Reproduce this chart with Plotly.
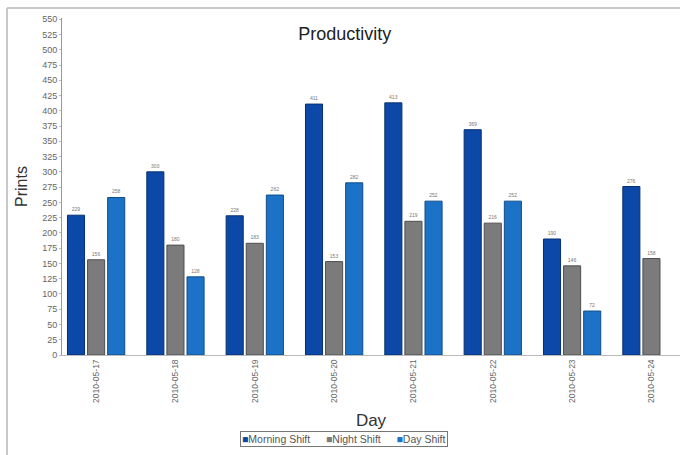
import plotly.graph_objects as go

days = ["2010-05-17", "2010-05-18", "2010-05-19", "2010-05-20",
        "2010-05-21", "2010-05-22", "2010-05-23", "2010-05-24"]
morning = [229, 300, 228, 411, 413, 369, 190, 276]
night = [156, 180, 183, 153, 219, 216, 146, 158]
day_shift = [258, 128, 262, 282, 252, 252, 72, None]
series_names = ["Morning Shift", "Night Shift", "Day Shift"]

FONT = "Liberation Sans Narrow, Arial Narrow, Liberation Sans, Arial, sans-serif"
colors = ["#0c48a8", "#7b7b7b", "#1b72c6"]
edges = ["#072f70", "#4e4e4e", "#0f4c88"]

fig = go.Figure()
for name, vals, col, edge in zip(series_names, [morning, night, day_shift], colors, edges):
    fig.add_trace(go.Bar(
        name=name, x=days, y=vals,
        marker=dict(color=col, line=dict(color=edge, width=1)),
        text=[("" if v is None else str(v)) for v in vals],
        textposition="outside", cliponaxis=False,
        textfont=dict(size=5, color="#777777", family=FONT),
        showlegend=False,
    ))

legend_text = "\u2003\u2002".join(
    f"<span style='color:{c}'>■</span>{n}" for n, c in zip(series_names, colors)
)

fig.update_layout(
    width=680, height=455,
    margin=dict(l=62, r=0, t=18, b=100),
    paper_bgcolor="white", plot_bgcolor="white",
    barmode="group", bargap=0.24, bargroupgap=0.15,
    font=dict(family=FONT, color="#333333"),
    title=dict(text="Productivity", x=0.507, xanchor="center", y=0.927, yanchor="middle",
               font=dict(size=18, color="#222222", family=FONT)),
    xaxis=dict(
        type="category", range=[-0.43, 7.36],
        showline=True, linecolor="#bbbbbb", linewidth=1,
        tickangle=-90, tickfont=dict(size=8.5, color="#666666"),
        ticks="", showgrid=False,
        title=dict(text="Day", font=dict(size=17, color="#333333"), standoff=12),
    ),
    yaxis=dict(
        range=[0, 552], dtick=25, tick0=0,
        showline=True, linecolor="#999999", linewidth=1,
        ticks="outside", ticklen=2, tickcolor="#bbbbbb",
        tickfont=dict(size=9, color="#666666"),
        showgrid=False, zeroline=False,
        title=dict(text="Prints", font=dict(size=16, color="#333333"), standoff=10),
    ),
    annotations=[
        dict(text=legend_text, xref="paper", yref="paper", x=0.457, y=-0.248,
             xanchor="center", yanchor="middle", showarrow=False,
             font=dict(size=10.5, color="#555555", family=FONT),
             bordercolor="#777777", borderwidth=1, borderpad=1, bgcolor="white"),
    ],
    shapes=[
        dict(type="line", xref="paper", yref="paper", x0=-0.089, x1=-0.089, y0=-0.5, y1=1.03,
             line=dict(color="#c8c8c8", width=2)),
        dict(type="line", xref="paper", yref="paper", x0=-0.089, x1=1.1, y0=1.03, y1=1.03,
             line=dict(color="#c8c8c8", width=2)),
    ],
)

fig.write_html("out.html", config={"displayModeBar": False},
               post_script="document.body.style.margin='0';")
